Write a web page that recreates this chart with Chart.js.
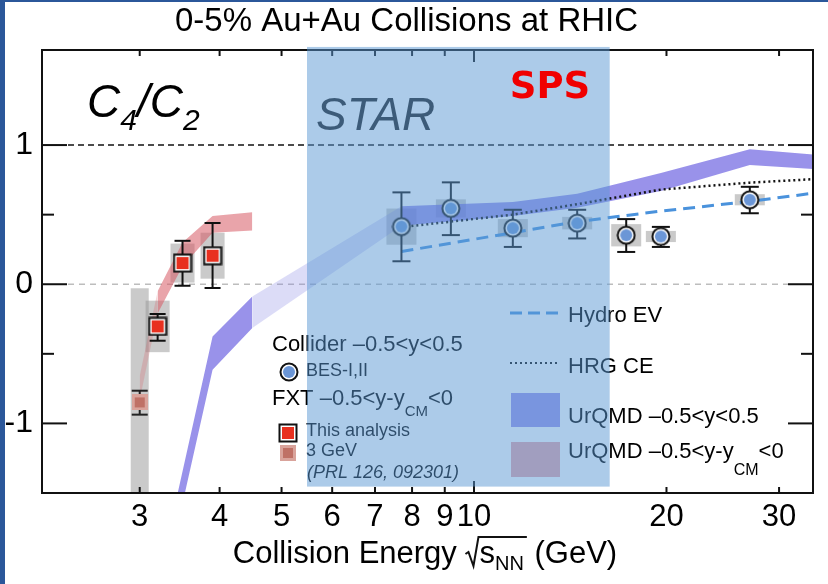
<!DOCTYPE html>
<html>
<head>
<meta charset="utf-8">
<script src="https://cdn.jsdelivr.net/npm/chart.js@4.4.1/dist/chart.umd.min.js"></script>
<style>
html, body { margin: 0; padding: 0; background: #fff; }
canvas { display: block; }
</style>
</head>
<body>
<canvas id="chart" width="828" height="584"></canvas>
<script>
// axis ticks
const xTicks = [3, 4, 5, 6, 7, 8, 9, 10, 20, 30];
const xMajorTicks = [10];
const yTicks = [-1, -0.5, 0, 0.5, 1];

// STAR collider BES-I,II
const besEnergy = [7.7, 9.2, 11.5, 14.5, 17.3, 19.6, 27];
const besValue = [0.414, 0.545, 0.403, 0.439, 0.352, 0.343, 0.607];
const besStatLow = [0.165, 0.353, 0.268, 0.329, 0.232, 0.268, 0.51];
const besStatHigh = [0.66, 0.732, 0.535, 0.535, 0.468, 0.412, 0.70];
const besSys = [0.13, 0.065, 0.065, 0.045, 0.08, 0.04, 0.04];

// FXT, this analysis
const fxtEnergy = [3.2, 3.5, 3.9];
const fxtValue = [-0.303, 0.152, 0.205];
const fxtStatLow = [-0.406, -0.011, -0.027];
const fxtStatHigh = [-0.214, 0.312, 0.44];
const fxtSys = [0.185, 0.14, 0.165];

// FXT 3 GeV (PRL 126, 092301)
const prlEnergy = [3.0];
const prlValue = [-0.849];
const prlStatLow = [-0.937];
const prlStatHigh = [-0.765];
const prlSys = [0.82];

// models
const hydroEnergy = [7.7, 11.5, 14.5, 19.6, 27, 39];
const hydroValue = [0.235, 0.37, 0.45, 0.525, 0.595, 0.69];
const hrgEnergy = [7.7, 11.5, 14.5, 19.6, 27, 39];
const hrgValue = [0.41, 0.50, 0.575, 0.68, 0.73, 0.77];

const urqmdLowEnergy = [3.44, 3.9, 4.5];
const urqmdLowMin = [-1.73, -0.614, -0.314];
const urqmdLowMax = [-1.5, -0.375, -0.088];
const urqmdGapEnergy = [4.5, 7.7];
const urqmdGapMin = [-0.314, 0.42];
const urqmdGapMax = [-0.088, 0.56];
const urqmdHighEnergy = [7.7, 11.5, 14.5, 19.6, 27, 39];
const urqmdHighMin = [0.42, 0.49, 0.55, 0.67, 0.856, 0.81];
const urqmdHighMax = [0.56, 0.59, 0.65, 0.80, 0.97, 0.91];

const urqmdFxtFaintEnergy = [3.0, 3.2];
const urqmdFxtFaintMin = [-0.83, -0.21];
const urqmdFxtFaintMax = [-0.66, -0.05];
const urqmdFxtEnergy = [3.2, 3.5, 3.9, 4.5];
const urqmdFxtMin = [-0.21, 0.13, 0.37, 0.386];
const urqmdFxtMax = [-0.05, 0.30, 0.49, 0.518];

// SPS energy window (shaded)
const spsEnergy = [5.48, 16.3];
const spsC4C2 = [-1.454, 1.705];

const FONT = '"Liberation Sans", Arial, sans-serif';
const BLUE_BAND = 'rgba(110,100,225,0.7)';
const BLUE_BAND_LIGHT = 'rgba(130,130,225,0.28)';
const PINK_BAND = 'rgba(215,90,100,0.55)';
const PINK_BAND_FAINT = 'rgba(215,90,100,0.25)';
const HYDRO_COLOR = '#4a92dc';

function pts(xs, ys) {
  return xs.map((x, i) => ({ x: x, y: ys[i] }));
}

function makeMarker(size, draw) {
  const c = document.createElement('canvas');
  c.width = size;
  c.height = size;
  draw(c.getContext('2d'));
  return c;
}

const circleMarker = makeMarker(20, g => {
  g.beginPath();
  g.arc(10, 10, 8.5, 0, 2 * Math.PI);
  g.fillStyle = '#fff';
  g.fill();
  g.lineWidth = 2;
  g.strokeStyle = '#111';
  g.stroke();
  g.beginPath();
  g.arc(10, 10, 6, 0, 2 * Math.PI);
  g.fillStyle = '#6b96d6';
  g.fill();
});

const squareMarker = makeMarker(20, g => {
  g.fillStyle = '#fff';
  g.fillRect(1, 1, 18, 18);
  g.lineWidth = 2;
  g.strokeStyle = '#111';
  g.strokeRect(1.5, 1.5, 17, 17);
  g.fillStyle = '#e8301f';
  g.fillRect(4, 4, 12, 12);
});

const prlMarker = makeMarker(16, g => {
  g.fillStyle = '#d9a39b';
  g.fillRect(0, 0, 16, 16);
  g.fillStyle = '#bf7166';
  g.fillRect(3, 3, 10, 10);
});

const datasets = [];

function band(xs, lo, hi, color) {
  const lowerIndex = datasets.length;
  datasets.push({
    data: pts(xs, lo), borderWidth: 0, borderColor: 'rgba(0,0,0,0)',
    pointRadius: 0, fill: false, order: 5
  });
  datasets.push({
    data: pts(xs, hi), borderWidth: 0, borderColor: 'rgba(0,0,0,0)',
    pointRadius: 0, fill: { target: lowerIndex }, backgroundColor: color, order: 5
  });
}

band(urqmdLowEnergy, urqmdLowMin, urqmdLowMax, BLUE_BAND);
band(urqmdGapEnergy, urqmdGapMin, urqmdGapMax, BLUE_BAND_LIGHT);
band(urqmdHighEnergy, urqmdHighMin, urqmdHighMax, BLUE_BAND);
band(urqmdFxtFaintEnergy, urqmdFxtFaintMin, urqmdFxtFaintMax, PINK_BAND_FAINT);
band(urqmdFxtEnergy, urqmdFxtMin, urqmdFxtMax, PINK_BAND);

datasets.push({
  label: 'Hydro EV', data: pts(hydroEnergy, hydroValue),
  borderColor: HYDRO_COLOR, borderWidth: 3, borderDash: [12, 7],
  pointRadius: 0, fill: false, order: 3
});
datasets.push({
  label: 'HRG CE', data: pts(hrgEnergy, hrgValue),
  borderColor: '#111', borderWidth: 2.5, borderDash: [2, 3],
  pointRadius: 0, fill: false, order: 3
});

datasets.push({
  label: '3 GeV', data: pts(prlEnergy, prlValue), showLine: false,
  pointStyle: prlMarker, pointRadius: 8, order: 1,
  err: { lo: prlStatLow, hi: prlStatHigh, cap: 8, color: '#222' }
});
datasets.push({
  label: 'This analysis', data: pts(fxtEnergy, fxtValue), showLine: false,
  pointStyle: squareMarker, pointRadius: 10, order: 1,
  err: { lo: fxtStatLow, hi: fxtStatHigh, cap: 8, color: '#111' }
});
datasets.push({
  label: 'BES-I,II', data: pts(besEnergy, besValue), showLine: false,
  pointStyle: circleMarker, pointRadius: 10, order: 1,
  err: { lo: besStatLow, hi: besStatHigh, cap: 9, color: '#111' }
});

function drawRich(ctx, x, y, parts) {
  parts.forEach(p => {
    ctx.font = (p.style || '') + ' ' + p.size + 'px ' + (p.family || FONT);
    ctx.fillText(p.text, x, y + (p.dy || 0));
    x += ctx.measureText(p.text).width;
  });
  return x;
}

function line(ctx, x1, y1, x2, y2) {
  ctx.beginPath();
  ctx.moveTo(x1, y1);
  ctx.lineTo(x2, y2);
  ctx.stroke();
}

function sysBoxes(chart, xs, ys, sys, halfW) {
  const { ctx, scales } = chart;
  xs.forEach((e, i) => {
    const px = scales.x.getPixelForValue(e);
    const top = scales.y.getPixelForValue(ys[i] + sys[i]);
    const bot = scales.y.getPixelForValue(ys[i] - sys[i]);
    ctx.fillRect(px - halfW, top, 2 * halfW, bot - top);
  });
}

const decorations = {
  id: 'decorations',
  beforeDraw(chart) {
    const ctx = chart.ctx;
    ctx.save();
    ctx.fillStyle = '#fff';
    ctx.fillRect(0, 0, chart.width, chart.height);
    ctx.fillStyle = '#2b579a';
    ctx.fillRect(0, 0, 5, chart.height);
    ctx.fillRect(0, 0, chart.width, 2);
    ctx.restore();
  },
  beforeDatasetsDraw(chart) {
    const { ctx, chartArea: ca, scales } = chart;
    ctx.save();
    // reference lines at 1 and 0
    ctx.lineWidth = 1.5;
    ctx.setLineDash([6, 4]);
    ctx.strokeStyle = '#111';
    let py = scales.y.getPixelForValue(1);
    line(ctx, ca.left + 26, py, ca.right - 25, py);
    ctx.setLineDash([6, 5]);
    ctx.strokeStyle = '#bdbdbd';
    py = scales.y.getPixelForValue(0);
    line(ctx, ca.left + 26, py, ca.right - 25, py);
    ctx.setLineDash([]);
    // systematic boxes
    ctx.beginPath();
    ctx.rect(ca.left, ca.top, ca.right - ca.left, ca.bottom - ca.top);
    ctx.clip();
    ctx.fillStyle = 'rgba(150,150,150,0.5)';
    sysBoxes(chart, prlEnergy, prlValue, prlSys, 9);
    sysBoxes(chart, fxtEnergy, fxtValue, fxtSys, 12);
    sysBoxes(chart, besEnergy, besValue, besSys, 15);
    ctx.restore();
  },
  beforeDatasetDraw(chart, args) {
    const ds = chart.data.datasets[args.index];
    if (!ds.err) return;
    const { ctx, scales } = chart;
    const e = ds.err;
    ctx.save();
    ctx.strokeStyle = e.color;
    ctx.lineWidth = 2;
    ds.data.forEach((p, i) => {
      const px = scales.x.getPixelForValue(p.x);
      const lo = scales.y.getPixelForValue(e.lo[i]);
      const hi = scales.y.getPixelForValue(e.hi[i]);
      line(ctx, px, lo, px, hi);
      line(ctx, px - e.cap, lo, px + e.cap, lo);
      line(ctx, px - e.cap, hi, px + e.cap, hi);
    });
    ctx.restore();
  },
  afterDraw(chart) {
    const { ctx, chartArea: ca, scales } = chart;
    ctx.save();
    // frame and inward ticks
    ctx.strokeStyle = '#111';
    ctx.lineWidth = 2;
    ctx.strokeRect(ca.left, ca.top, ca.right - ca.left, ca.bottom - ca.top);
    xTicks.forEach(v => {
      const px = scales.x.getPixelForValue(v);
      const len = xMajorTicks.includes(v) ? 12 : 6;
      line(ctx, px, ca.bottom, px, ca.bottom - len);
      line(ctx, px, ca.top, px, ca.top + len);
    });
    yTicks.forEach(v => {
      const py = scales.y.getPixelForValue(v);
      const len = Number.isInteger(v) ? 25 : 12;
      line(ctx, ca.left, py, ca.left + len, py);
      line(ctx, ca.right, py, ca.right - len, py);
    });

    // x axis title
    ctx.fillStyle = '#000';
    ctx.textBaseline = 'alphabetic';
    const base = 563;
    ctx.font = '31px ' + FONT;
    const w1 = ctx.measureText('Collision Energy ').width;
    const wS = ctx.measureText('s').width;
    const wG = ctx.measureText(' (GeV)').width;
    ctx.font = '20px ' + FONT;
    const wN = ctx.measureText('NN').width;
    const radW = 14;
    const total = w1 + radW + wS + wN + wG + 2;
    let x = 425 - total / 2;
    ctx.font = '31px ' + FONT;
    ctx.fillText('Collision Energy ', x, base);
    x += w1;
    ctx.lineWidth = 2;
    ctx.beginPath();
    ctx.moveTo(x, base - 9);
    ctx.lineTo(x + 3, base - 11);
    ctx.lineTo(x + 8, base + 3);
    ctx.lineTo(x + radW - 1, base - 26);
    ctx.lineTo(x + radW + wS + wN + 3, base - 26);
    ctx.stroke();
    x += radW;
    ctx.fillText('s', x, base);
    x += wS;
    ctx.font = '20px ' + FONT;
    ctx.fillText('NN', x, base + 7);
    x += wN + 2;
    ctx.font = '31px ' + FONT;
    ctx.fillText(' (GeV)', x, base);

    // C4/C2 label
    drawRich(ctx, 87, 117, [
      { text: 'C', size: 46, style: 'italic' },
      { text: '4', size: 30, style: 'italic', dy: 13 },
      { text: '/', size: 46, style: 'italic' },
      { text: 'C', size: 46, style: 'italic' },
      { text: '2', size: 30, style: 'italic', dy: 13 }
    ]);

    // STAR label
    ctx.fillStyle = '#1e1e1e';
    ctx.font = 'italic 46px ' + FONT;
    ctx.fillText('STAR', 316, 130);
    ctx.fillStyle = '#000';

    // left legend
    drawRich(ctx, 272, 351, [{ text: 'Collider \u20130.5<y<0.5', size: 22 }]);
    ctx.drawImage(circleMarker, 279, 362);
    drawRich(ctx, 306, 376, [{ text: 'BES-I,II', size: 18 }]);
    drawRich(ctx, 272, 405, [
      { text: 'FXT \u20130.5<y-y', size: 22 },
      { text: 'CM', size: 15, dy: 11 },
      { text: '<0', size: 22 }
    ]);
    ctx.drawImage(squareMarker, 278, 423);
    drawRich(ctx, 306, 436, [{ text: 'This analysis', size: 18 }]);
    ctx.drawImage(prlMarker, 280, 445);
    drawRich(ctx, 306, 456, [{ text: '3 GeV', size: 18 }]);
    drawRich(ctx, 307, 478, [{ text: '(PRL 126, 092301)', size: 18, style: 'italic' }]);

    // right legend
    ctx.lineWidth = 3;
    ctx.strokeStyle = HYDRO_COLOR;
    ctx.setLineDash([12, 6]);
    line(ctx, 510, 313, 558, 313);
    ctx.lineWidth = 2;
    ctx.strokeStyle = '#111';
    ctx.setLineDash([2, 3]);
    line(ctx, 510, 363, 558, 363);
    ctx.setLineDash([]);
    drawRich(ctx, 568, 322, [{ text: 'Hydro EV', size: 22 }]);
    drawRich(ctx, 568, 373, [{ text: 'HRG CE', size: 22 }]);
    ctx.fillStyle = BLUE_BAND;
    ctx.fillRect(511, 393, 49, 34);
    ctx.fillStyle = PINK_BAND;
    ctx.fillRect(511, 442, 49, 35);
    ctx.fillStyle = '#000';
    drawRich(ctx, 568, 423, [{ text: 'UrQMD \u20130.5<y<0.5', size: 22 }]);
    drawRich(ctx, 568, 458, [
      { text: 'UrQMD \u20130.5<y-y', size: 22 },
      { text: 'CM', size: 16, dy: 17 },
      { text: '<0', size: 22 }
    ]);

    // SPS energy window
    const sx1 = scales.x.getPixelForValue(spsEnergy[0]);
    const sx2 = scales.x.getPixelForValue(spsEnergy[1]);
    const sy1 = scales.y.getPixelForValue(spsC4C2[1]);
    const sy2 = scales.y.getPixelForValue(spsC4C2[0]);
    ctx.fillStyle = 'rgba(90,151,211,0.5)';
    ctx.fillRect(sx1, sy1, sx2 - sx1, sy2 - sy1);

    ctx.fillStyle = '#f00000';
    ctx.font = 'bold 37px "DejaVu Sans", sans-serif';
    ctx.textAlign = 'center';
    ctx.textBaseline = 'middle';
    ctx.fillText('SPS', 550, 88);
    ctx.restore();
  }
};

Chart.defaults.font.family = FONT;
Chart.defaults.color = '#000';

new Chart(document.getElementById('chart'), {
  type: 'line',
  data: { datasets: datasets },
  options: {
    responsive: false,
    devicePixelRatio: 1,
    animation: false,
    layout: { padding: { left: 0, right: 15, top: 0, bottom: 0 } },
    elements: { line: { tension: 0 } },
    plugins: {
      legend: { display: false },
      tooltip: { enabled: false },
      title: {
        display: true,
        text: '0-5% Au+Au Collisions at RHIC',
        color: '#000',
        font: { size: 33, weight: 'normal', family: FONT },
        padding: { top: 2, bottom: 8.4 }
      }
    },
    scales: {
      x: {
        type: 'logarithmic',
        min: 2.11,
        max: 33.9,
        afterBuildTicks: s => { s.ticks = xTicks.map(v => ({ value: v })); },
        afterFit: s => { s.height = 91; },
        grid: { display: false, drawTicks: false },
        border: { display: false },
        ticks: {
          autoSkip: false,
          maxRotation: 0,
          padding: 6,
          font: { size: 31 },
          callback: v => String(v)
        }
      },
      y: {
        type: 'linear',
        min: -1.5,
        max: 1.683,
        afterBuildTicks: s => { s.ticks = yTicks.map(v => ({ value: v })); },
        afterFit: s => { s.width = 42; },
        grid: { display: false, drawTicks: false },
        border: { display: false },
        ticks: {
          padding: 9,
          font: { size: 32 },
          callback: v => Number.isInteger(v) ? (v < 0 ? '-' + Math.abs(v) : String(v)) : ''
        }
      }
    }
  },
  plugins: [decorations]
});
</script>
</body>
</html>
